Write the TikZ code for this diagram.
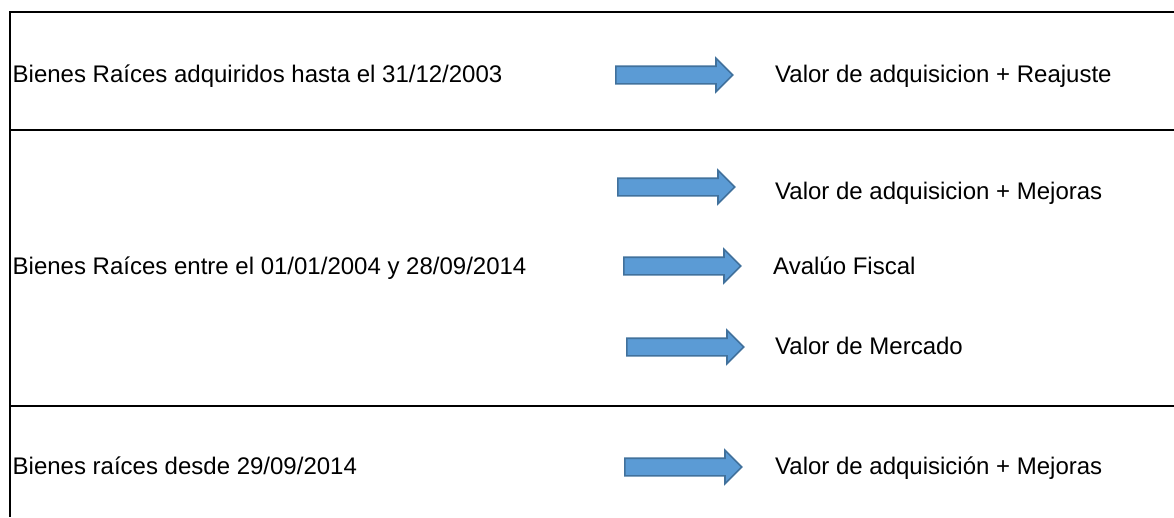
\documentclass[tikz,border=0pt]{standalone}
\usepackage{fontspec}
\setmainfont{Liberation Sans}
\usetikzlibrary{shapes.arrows}

\definecolor{arrfill}{HTML}{5B9BD5}
\definecolor{arrdraw}{HTML}{41719C}

\begin{document}
\begin{tikzpicture}[
    x=1pt, y=-1pt,
    font=\fontsize{24}{28}\selectfont,
    frame/.style={draw=black, line width=2pt},
    txt/.style={anchor=base west, inner sep=0pt},
    blockarr/.style={
      single arrow, draw=arrdraw, fill=arrfill, line width=1.6pt,
      minimum height=117pt, text height=8pt, text depth=8pt,
      single arrow head extend=8pt, inner sep=0pt,
      anchor=tail
    }
  ]
  \useasboundingbox (0,0) rectangle (1174,517);
  % table frame
  \draw[frame] (1174,12) -- (9.5,12) -- (9.5,517);
  \draw[frame] (9.5,130) -- (1174,130);
  \draw[frame] (9.5,406) -- (1174,406);

  \node[txt] (lab1) at (12.5,82.5) {Bienes Raíces adquiridos hasta el 31/12/2003};
  \node[txt] (lab2) at (12.5,274.5) {Bienes Raíces entre el 01/01/2004 y 28/09/2014};
  \node[txt] (lab3) at (12.5,474.5) {Bienes raíces desde 29/09/2014};

  \node[blockarr] (arr1) at (615,75) {};
  \node[blockarr] (arr2) at (617,187) {};
  \node[blockarr] (arr3) at (623,266) {};
  \node[blockarr] (arr4) at (626,347) {};
  \node[blockarr] (arr5) at (624,467) {};

  \node[txt] (val1) at (775,82.5) {Valor de adquisicion + Reajuste};
  \node[txt] (val2) at (775,199.5) {Valor de adquisicion + Mejoras};
  \node[txt] (val3) at (773,274) {Avalúo Fiscal};
  \node[txt] (val4) at (775,354) {Valor de Mercado};
  \node[txt] (val5) at (775,474.5) {Valor de adquisición + Mejoras};
\end{tikzpicture}
\end{document}
